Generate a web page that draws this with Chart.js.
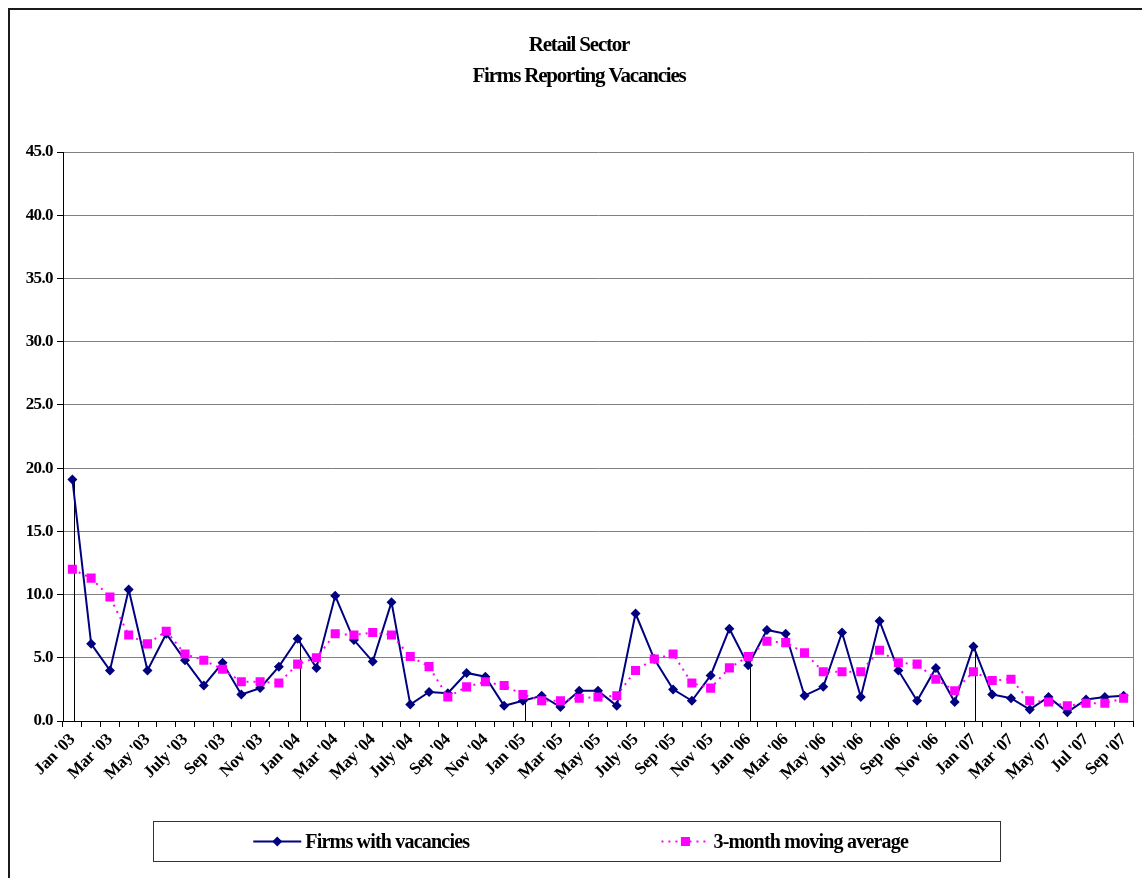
<!DOCTYPE html>
<html>
<head>
<meta charset="utf-8">
<title>Retail Sector – Firms Reporting Vacancies</title>
<script src="https://cdn.jsdelivr.net/npm/chart.js@4.4.1/dist/chart.umd.min.js"></script>
<style>
  html, body { margin: 0; padding: 0; background: #ffffff; }
  #wrap { width: 1142px; height: 878px; }
</style>
</head>
<body>
<div id="wrap"><canvas id="chart" width="1142" height="878"></canvas></div>
<script>
// Monthly categories, Jan 2003 – Sep 2007
const months = [
  "Jan '03","Feb '03","Mar '03","Apr '03","May '03","Jun '03","July '03","Aug '03","Sep '03","Oct '03","Nov '03","Dec '03",
  "Jan '04","Feb '04","Mar '04","Apr '04","May '04","Jun '04","July '04","Aug '04","Sep '04","Oct '04","Nov '04","Dec '04",
  "Jan '05","Feb '05","Mar '05","Apr '05","May '05","Jun '05","July '05","Aug '05","Sep '05","Oct '05","Nov '05","Dec '05",
  "Jan '06","Feb '06","Mar '06","Apr '06","May '06","Jun '06","July '06","Aug '06","Sep '06","Oct '06","Nov '06","Dec '06",
  "Jan '07","Feb '07","Mar '07","Apr '07","May '07","Jun '07","Jul '07","Aug '07","Sep '07"
];

// Percentage of retail firms reporting vacancies
const firmsWithVacancies = [
  19.1, 6.1, 4.0, 10.4, 4.0, 6.9, 4.8, 2.8, 4.6, 2.1, 2.6, 4.3,
  6.5, 4.2, 9.9, 6.4, 4.7, 9.4, 1.3, 2.3, 2.2, 3.8, 3.5, 1.2,
  1.6, 2.0, 1.1, 2.4, 2.4, 1.2, 8.5, 4.9, 2.5, 1.6, 3.6, 7.3,
  4.4, 7.2, 6.9, 2.0, 2.7, 7.0, 1.9, 7.9, 4.0, 1.6, 4.2, 1.5,
  5.9, 2.1, 1.8, 0.9, 1.9, 0.7, 1.7, 1.9, 2.0
];

// 3-month moving average of the same series
const movingAverage3m = [
  12.0, 11.3, 9.8, 6.8, 6.1, 7.1, 5.3, 4.8, 4.1, 3.1, 3.1, 3.0,
  4.5, 5.0, 6.9, 6.8, 7.0, 6.8, 5.1, 4.3, 1.9, 2.7, 3.1, 2.8,
  2.1, 1.6, 1.6, 1.8, 1.9, 2.0, 4.0, 4.9, 5.3, 3.0, 2.6, 4.2,
  5.1, 6.3, 6.2, 5.4, 3.9, 3.9, 3.9, 5.6, 4.6, 4.5, 3.3, 2.4,
  3.9, 3.2, 3.3, 1.6, 1.5, 1.2, 1.4, 1.4, 1.8
];

const titleLines = ["Retail Sector", "Firms Reporting Vacancies"];
const seriesNames = ["Firms with vacancies", "3-month moving average"];

const NAVY = "#000080";
const MAGENTA = "#FF00FF";
const SERIF = "'Liberation Serif', 'Times New Roman', serif";

// Run a drawing method with a given canvas letter spacing
function withSpacing(obj, name, spacing) {
  if (!obj || obj["__spaced_" + name]) return;
  const original = obj[name];
  obj[name] = function (...args) {
    const c = this.ctx;
    const prev = c.letterSpacing;
    c.letterSpacing = spacing;
    try { return original.apply(this, args); }
    finally { c.letterSpacing = prev; }
  };
  obj["__spaced_" + name] = true;
}

const decorations = {
  id: "decorations",
  afterLayout(chart) {
    withSpacing(chart.titleBlock, "draw", "-1.2px");
    withSpacing(chart.scales.x, "drawLabels", "-0.4px");
    withSpacing(chart.scales.y, "drawLabels", "-0.6px");
  },
  beforeDraw(chart) {
    const c = chart.ctx;
    c.save();
    c.fillStyle = "#ffffff";
    c.fillRect(0, 0, chart.width, chart.height);
    // outer chart frame
    c.strokeStyle = "#1a1a1a";
    c.lineWidth = 2;
    c.strokeRect(9, 9, chart.width + 20, chart.height + 20);
    c.restore();
  },
  beforeDatasetsDraw(chart) {
    const c = chart.ctx;
    const xs = chart.scales.x, ys = chart.scales.y;
    const area = chart.chartArea;
    c.save();
    // plot-area right edge
    c.strokeStyle = "#808080";
    c.lineWidth = 1;
    c.beginPath();
    c.moveTo(Math.round(area.right) + 0.5, area.top);
    c.lineTo(Math.round(area.right) + 0.5, area.bottom);
    c.stroke();
    // drop lines marking the start of each year
    c.strokeStyle = "#000000";
    c.lineWidth = 1;
    months.forEach((m, i) => {
      if (!m.startsWith("Jan")) return;
      const x = Math.round(xs.getPixelForValue(i)) + 2.5;
      c.beginPath();
      c.moveTo(x, ys.getPixelForValue(firmsWithVacancies[i]));
      c.lineTo(x, ys.getPixelForValue(0));
      c.stroke();
    });
    c.restore();
  },
  afterDraw(chart) {
    const c = chart.ctx;
    const box = { left: 153.5, top: 821.5, right: 1000.5, bottom: 861.5 };
    const cy = (box.top + box.bottom) / 2;
    c.save();
    c.strokeStyle = "#333333";
    c.lineWidth = 1;
    c.strokeRect(box.left, box.top, box.right - box.left, box.bottom - box.top);

    c.font = "bold 20px " + SERIF;
    c.letterSpacing = "-0.8px";
    c.textBaseline = "middle";
    c.fillStyle = "#000000";
    const half = (box.right - box.left) / 2;
    const sample = 48, gap = 4;
    chart.data.datasets.forEach((ds, k) => {
      const tw = c.measureText(ds.label).width;
      const total = sample + gap + tw;
      const x0 = box.left + half * k + (half - total) / 2 - 4;
      const mx = x0 + sample / 2;
      // line sample
      c.save();
      c.strokeStyle = ds.borderColor;
      c.lineWidth = ds.borderWidth;
      c.setLineDash(ds.borderDash || []);
      c.beginPath();
      c.moveTo(x0, cy);
      c.lineTo(x0 + sample, cy);
      c.stroke();
      c.restore();
      // marker
      c.fillStyle = ds.pointBackgroundColor;
      c.beginPath();
      if (ds.pointStyle === "rectRot") {
        const r = ds.pointRadius;
        c.moveTo(mx, cy - r);
        c.lineTo(mx + r, cy);
        c.lineTo(mx, cy + r);
        c.lineTo(mx - r, cy);
      } else {
        const s = ds.pointRadius * Math.SQRT1_2;
        c.rect(mx - s, cy - s, 2 * s, 2 * s);
      }
      c.closePath();
      c.fill();
      c.fillStyle = "#000000";
      c.fillText(ds.label, x0 + sample + gap, cy + 1);
    });
    c.restore();
  }
};

new Chart(document.getElementById("chart"), {
  type: "line",
  data: {
    labels: months,
    datasets: [
      {
        label: seriesNames[0],
        data: firmsWithVacancies,
        borderColor: NAVY,
        backgroundColor: NAVY,
        borderWidth: 2,
        tension: 0,
        pointStyle: "rectRot",
        pointRadius: 5,
        pointBackgroundColor: NAVY,
        pointBorderColor: NAVY,
        pointBorderWidth: 0,
        order: 1
      },
      {
        label: seriesNames[1],
        data: movingAverage3m,
        borderColor: MAGENTA,
        backgroundColor: MAGENTA,
        borderWidth: 2,
        borderDash: [2, 5],
        tension: 0,
        pointStyle: "rect",
        pointRadius: 6.4,
        pointBackgroundColor: MAGENTA,
        pointBorderColor: MAGENTA,
        pointBorderWidth: 0,
        order: 0
      }
    ]
  },
  options: {
    responsive: false,
    animation: false,
    devicePixelRatio: 1,
    layout: { padding: { left: 25, right: 9, top: 0, bottom: 0 } },
    plugins: {
      legend: { display: false },
      tooltip: { enabled: false },
      title: {
        display: true,
        text: titleLines,
        color: "#000000",
        font: { family: SERIF, size: 21, weight: "bold", lineHeight: 31 / 21 },
        padding: { top: 30, bottom: 60 }
      }
    },
    scales: {
      x: {
        type: "category",
        offset: true,
        afterFit(scale) { scale.height = 157; },
        grid: {
          offset: true,
          drawOnChartArea: false,
          drawTicks: true,
          tickLength: 6,
          tickColor: "#000000"
        },
        border: { display: true, color: "#000000", width: 1 },
        ticks: {
          autoSkip: false,
          minRotation: 45,
          maxRotation: 45,
          padding: 3,
          color: "#000000",
          font: { family: SERIF, size: 17, weight: "bold" },
          callback: (value, index) => (index % 2 === 0 ? months[index] : "")
        }
      },
      y: {
        min: 0,
        max: 45,
        afterFit(scale) { scale.width = 38; },
        grid: {
          color: "#808080",
          lineWidth: 1,
          drawTicks: true,
          tickLength: 6,
          tickColor: "#000000"
        },
        border: { display: true, color: "#000000", width: 1 },
        ticks: {
          stepSize: 5,
          padding: 4,
          color: "#000000",
          font: { family: SERIF, size: 17, weight: "bold" },
          callback: (v) => Number(v).toFixed(1)
        }
      }
    }
  },
  plugins: [decorations]
});
</script>
</body>
</html>
